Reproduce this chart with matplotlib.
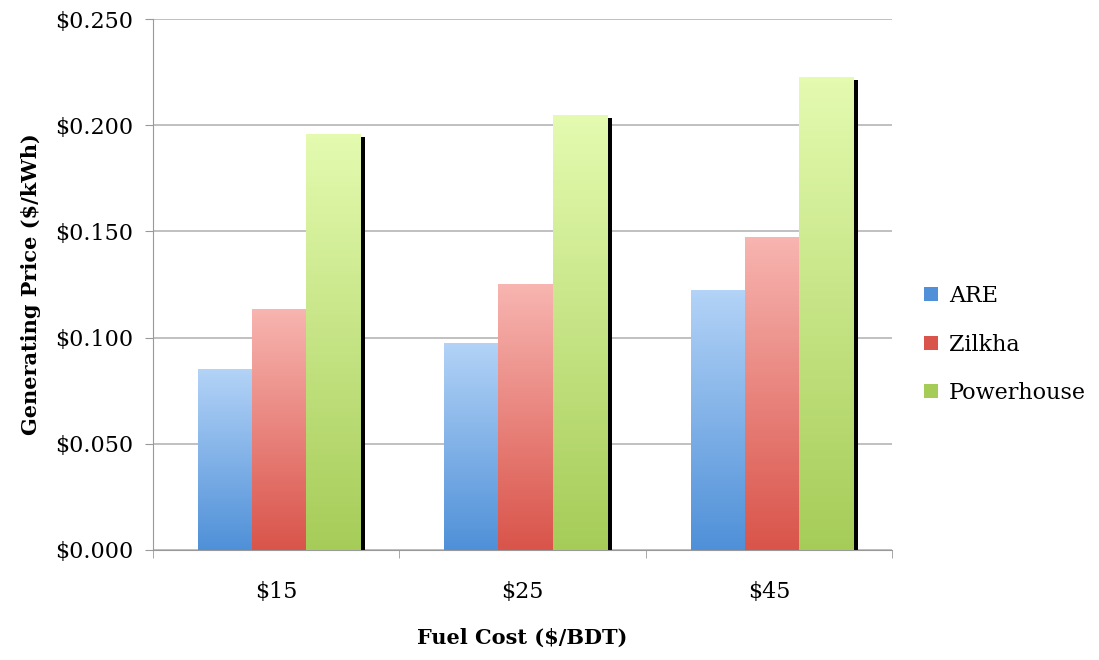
import numpy as np
import matplotlib
matplotlib.use("Agg")
import matplotlib.pyplot as plt
from matplotlib.colors import LinearSegmentedColormap
from matplotlib.patches import Patch

categories = ["$15", "$25", "$45"]
series = ["ARE", "Zilkha", "Powerhouse"]
are = [0.0852, 0.0975, 0.1222]
zilkha = [0.1135, 0.1250, 0.1475]
powerhouse = [0.1960, 0.2048, 0.2227]
yticks = [0.0, 0.05, 0.10, 0.15, 0.20, 0.25]

# top colour, bottom colour for each series
grads = [("#b3d3f7", "#4f90d8"), ("#f8b5b1", "#d9544a"), ("#e4fbb0", "#a6cc58")]

plt.rcParams["font.family"] = ["DejaVu Serif"]
fig = plt.figure(figsize=(10.99, 6.6), dpi=100)
ax = fig.add_axes([0.1392, 0.1667, 0.6725, 0.8045])

x = np.arange(len(categories))
w = 0.22
off = 0.012
vals = [are, zilkha, powerhouse]

# black shadow strip behind the Powerhouse bars
ax.bar(x + w + off + 0.02, [v - 0.0015 for v in powerhouse], width=w, color="black", zorder=2)

grad = np.linspace(0, 1, 256).reshape(-1, 1)
for i, (v, (c_top, c_bot)) in enumerate(zip(vals, grads)):
    bars = ax.bar(x + (i - 1) * w + off, v, width=w, color=c_bot, zorder=3)
    cmap = LinearSegmentedColormap.from_list("g%d" % i, [c_bot, c_top])
    for b in bars:
        x0, y0 = b.get_x(), b.get_y()
        im = ax.imshow(grad, extent=[x0, x0 + b.get_width(), y0, y0 + b.get_height()],
                       aspect="auto", cmap=cmap, origin="lower", zorder=3)
        im.set_clip_path(b)
        b.set_facecolor("none")

ax.set_xlim(-0.5, len(categories) - 0.5)
ax.set_ylim(0, 0.25)
ax.set_yticks(yticks)
ax.set_yticklabels(["$%.3f" % t for t in yticks])
ax.set_xticks(x)
ax.set_xticklabels(categories)
ax.set_xticks(np.arange(-0.5, len(categories)), minor=True)
ax.tick_params(axis="x", which="major", length=0, pad=22, labelsize=16)
ax.tick_params(axis="x", which="minor", length=6, color="#999999")
ax.tick_params(axis="y", length=6, color="#999999", labelsize=16, pad=8)
ax.yaxis.grid(True, color="#b5b5b5", linewidth=1.2, zorder=0)
ax.set_axisbelow(True)
for s in ["top", "right"]:
    ax.spines[s].set_visible(False)
for s in ["left", "bottom"]:
    ax.spines[s].set_color("#999999")

ax.set_xlabel("Fuel Cost ($/BDT)", fontsize=15, fontweight="bold", labelpad=18)
ax.set_ylabel("Generating Price ($/kWh)", fontsize=15, fontweight="bold", labelpad=10)

handles = [Patch(facecolor=c[1], edgecolor="none") for c in grads]
leg = fig.legend(handles, series, loc="center left", bbox_to_anchor=(0.823, 0.478),
                 frameon=False, fontsize=16, handlelength=0.6, handleheight=0.6,
                 handletextpad=0.5, labelspacing=1.2)

fig.savefig("out.png", dpi=100)
